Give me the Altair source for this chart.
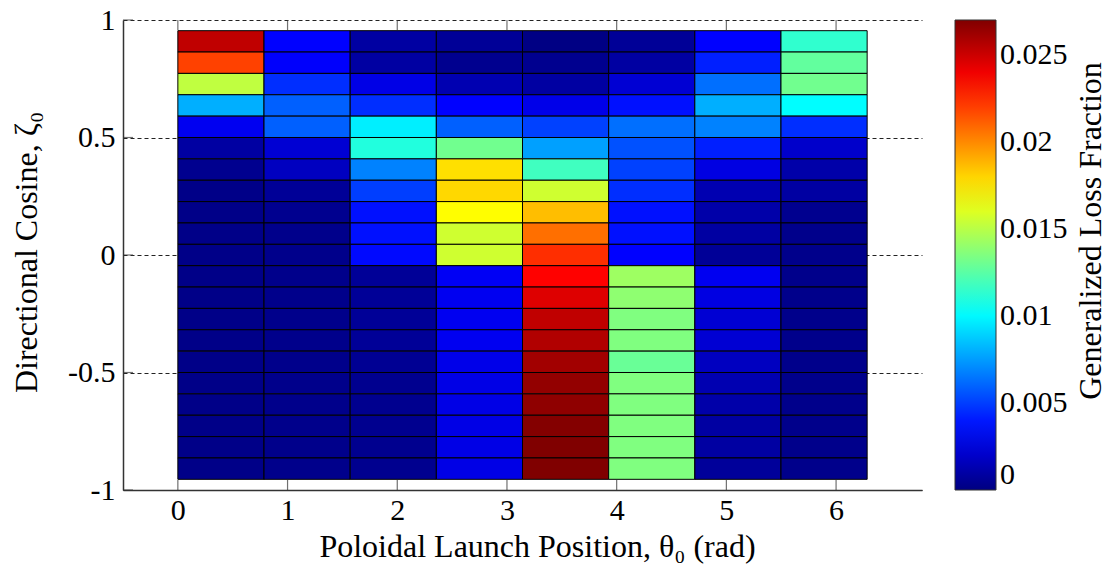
import altair as alt
import pandas as pd

# ---- data ----
theta_edges = [0.0, 0.7854, 1.5708, 2.3562, 3.1416, 3.9270, 4.7124, 5.4978, 6.2832]
zeta_centers = [0.9091, 0.8182, 0.7273, 0.6364, 0.5455, 0.4545, 0.3636, 0.2727, 0.1818, 0.0909, 0.0,
                -0.0909, -0.1818, -0.2727, -0.3636, -0.4545, -0.5455, -0.6364, -0.7273, -0.8182, -0.9091]
zeta_half = 0.04545

loss_theta0 = [0.0253, 0.0219, 0.0152, 0.0080, 0.0030, 0.0009, 0.0004, 0.0002, 0.0002, 0.0002, 0.0002,
               0.0002, 0.0002, 0.0002, 0.0002, 0.0002, 0.0002, 0.0002, 0.0002, 0.0002, 0.0002]
loss_theta1 = [0.0034, 0.0033, 0.0046, 0.0059, 0.0059, 0.0022, 0.0017, 0.0006, 0.0004, 0.0003, 0.0003,
               0.0003, 0.0003, 0.0003, 0.0003, 0.0003, 0.0003, 0.0003, 0.0003, 0.0003, 0.0003]
loss_theta2 = [0.0009, 0.0009, 0.0027, 0.0046, 0.0097, 0.0110, 0.0068, 0.0050, 0.0038, 0.0038, 0.0036,
               0.0006, 0.0006, 0.0006, 0.0006, 0.0005, 0.0004, 0.0004, 0.0004, 0.0004, 0.0004]
loss_theta3 = [0.0006, 0.0004, 0.0013, 0.0034, 0.0059, 0.0131, 0.0177, 0.0179, 0.0169, 0.0156, 0.0156,
               0.0031, 0.0030, 0.0030, 0.0030, 0.0028, 0.0027, 0.0027, 0.0027, 0.0027, 0.0027]
loss_theta4 = [0.0001, 0.0004, 0.0009, 0.0028, 0.0051, 0.0076, 0.0118, 0.0156, 0.0186, 0.0207, 0.0224,
               0.0236, 0.0245, 0.0253, 0.0257, 0.0261, 0.0265, 0.0266, 0.0269, 0.0270, 0.0270]
loss_theta5 = [0.0006, 0.0009, 0.0022, 0.0038, 0.0063, 0.0055, 0.0051, 0.0046, 0.0038, 0.0038, 0.0034,
               0.0143, 0.0139, 0.0135, 0.0135, 0.0129, 0.0135, 0.0135, 0.0135, 0.0135, 0.0135]
loss_theta6 = [0.0034, 0.0042, 0.0063, 0.0080, 0.0068, 0.0042, 0.0026, 0.0013, 0.0011, 0.0009, 0.0006,
               0.0030, 0.0026, 0.0022, 0.0022, 0.0017, 0.0013, 0.0011, 0.0009, 0.0009, 0.0007]
loss_theta7 = [0.0114, 0.0127, 0.0131, 0.0101, 0.0046, 0.0020, 0.0011, 0.0009, 0.0004, 0.0003, 0.0003,
               0.0003, 0.0003, 0.0003, 0.0003, 0.0003, 0.0003, 0.0003, 0.0003, 0.0003, 0.0003]

x_ticks = [0, 1, 2, 3, 4, 5, 6]
y_ticks = [-1, -0.5, 0, 0.5, 1]
cbar_ticks = [0, 0.005, 0.01, 0.015, 0.02, 0.025]

columns = [loss_theta0, loss_theta1, loss_theta2, loss_theta3,
           loss_theta4, loss_theta5, loss_theta6, loss_theta7]

rows = []
for i, col in enumerate(columns):
    for j, v in enumerate(col):
        rows.append({
            "t0": theta_edges[i], "t1": theta_edges[i + 1],
            "z0": zeta_centers[j] - zeta_half, "z1": zeta_centers[j] + zeta_half,
            "loss": v,
        })
df = pd.DataFrame(rows)

# jet colormap as a piecewise scale
cmax = 0.027
jet_range = ["#000080", "#0000ff", "#0080ff", "#00ffff", "#80ff80",
             "#ffff00", "#ff8000", "#ff0000", "#800000"]
jet_domain = [cmax * k / 8 for k in range(9)]

FONT = "Liberation Serif"
FS = 30      # tick labels
TFS = 32     # titles
AX = "#333333"

xscale = alt.Scale(domain=[-0.5, 6.7832], nice=False, zero=False)
yscale = alt.Scale(domain=[-1, 1], nice=False, zero=False)

x_axis = alt.Axis(values=x_ticks, grid=False, tickSize=0, labelPadding=5,
                  labelFlush=False, domainColor=AX, domainWidth=1.5,
                  labelFont=FONT, labelFontSize=FS, labelColor="black",
                  title="Poloidal Launch Position, θ₀ (rad)",
                  titleFont=FONT, titleFontSize=TFS, titleFontWeight="normal",
                  titleColor="black", titleX=414, titleY=66,
                  titleBaseline="alphabetic")
y_axis = alt.Axis(values=y_ticks, grid=True, gridDash=[4, 3], gridColor="#222222",
                  gridWidth=1, tickSize=0, labelPadding=8,
                  labelExpr="toString(datum.value)",
                  domainColor=AX, domainWidth=1.5,
                  labelFont=FONT, labelFontSize=FS, labelColor="black",
                  title="Directional Cosine, ζ₀",
                  titleFont=FONT, titleFontSize=TFS, titleFontWeight="normal",
                  titleColor="black", titleX=-87, titleY=232,
                  titleBaseline="alphabetic")

rects = alt.Chart(df).mark_rect(stroke="black", strokeWidth=1).encode(
    x=alt.X("t0:Q", scale=xscale, axis=x_axis),
    x2="t1:Q",
    y=alt.Y("z0:Q", scale=yscale, axis=y_axis),
    y2="z1:Q",
    fill=alt.Fill("loss:Q",
                  scale=alt.Scale(domain=jet_domain, range=jet_range, interpolate="rgb"),
                  legend=alt.Legend(orient="none", legendX=832, legendY=0,
                                    direction="vertical", gradientLength=470,
                                    gradientThickness=41, values=cbar_ticks,
                                    labelExpr="toString(datum.value)",
                                    labelFont=FONT, labelFontSize=FS, labelColor="black",
                                    labelOffset=4, labelOverlap=False,
                                    labelBaseline="middle",
                                    gradientStrokeColor=AX, gradientStrokeWidth=1,
                                    title=None)),
)

# inward tick marks (drawn through the same scales)
xt = pd.DataFrame({"t0": x_ticks, "zb": [-1] * len(x_ticks), "zt": [1] * len(x_ticks)})
yt = pd.DataFrame({"z0": y_ticks, "tl": [-0.5] * len(y_ticks)})

bottom_ticks = alt.Chart(xt).mark_tick(orient="vertical", size=10, thickness=1.2,
                                       color=AX, yOffset=-5).encode(
    x=alt.X("t0:Q", scale=xscale, axis=x_axis),
    y=alt.Y("zb:Q", scale=yscale, axis=y_axis))
top_ticks = alt.Chart(xt).mark_tick(orient="vertical", size=10, thickness=1.2,
                                    color=AX, yOffset=5).encode(
    x=alt.X("t0:Q", scale=xscale, axis=x_axis),
    y=alt.Y("zt:Q", scale=yscale, axis=y_axis))
left_ticks = alt.Chart(yt).mark_tick(orient="horizontal", size=10, thickness=1.2,
                                     color=AX, xOffset=5).encode(
    x=alt.X("tl:Q", scale=xscale, axis=x_axis),
    y=alt.Y("z0:Q", scale=yscale, axis=y_axis))

cbar_title = alt.Chart(pd.DataFrame({"label": ["Generalized Loss Fraction"]})).mark_text(
    angle=270, align="center", baseline="alphabetic", font=FONT, fontSize=TFS, color="black"
).encode(x=alt.value(978), y=alt.value(211), text="label:N")

chart = alt.layer(rects, bottom_ticks, top_ticks, left_ticks, cbar_title).properties(
    width=799, height=470,
    padding={"left": 123, "top": 20, "right": 195, "bottom": 81},
    autosize=alt.AutoSizeParams(type="none"),
    background="white",
).configure_view(stroke="transparent")

chart.save("out.html", embed_options={"renderer": "svg", "actions": False})
